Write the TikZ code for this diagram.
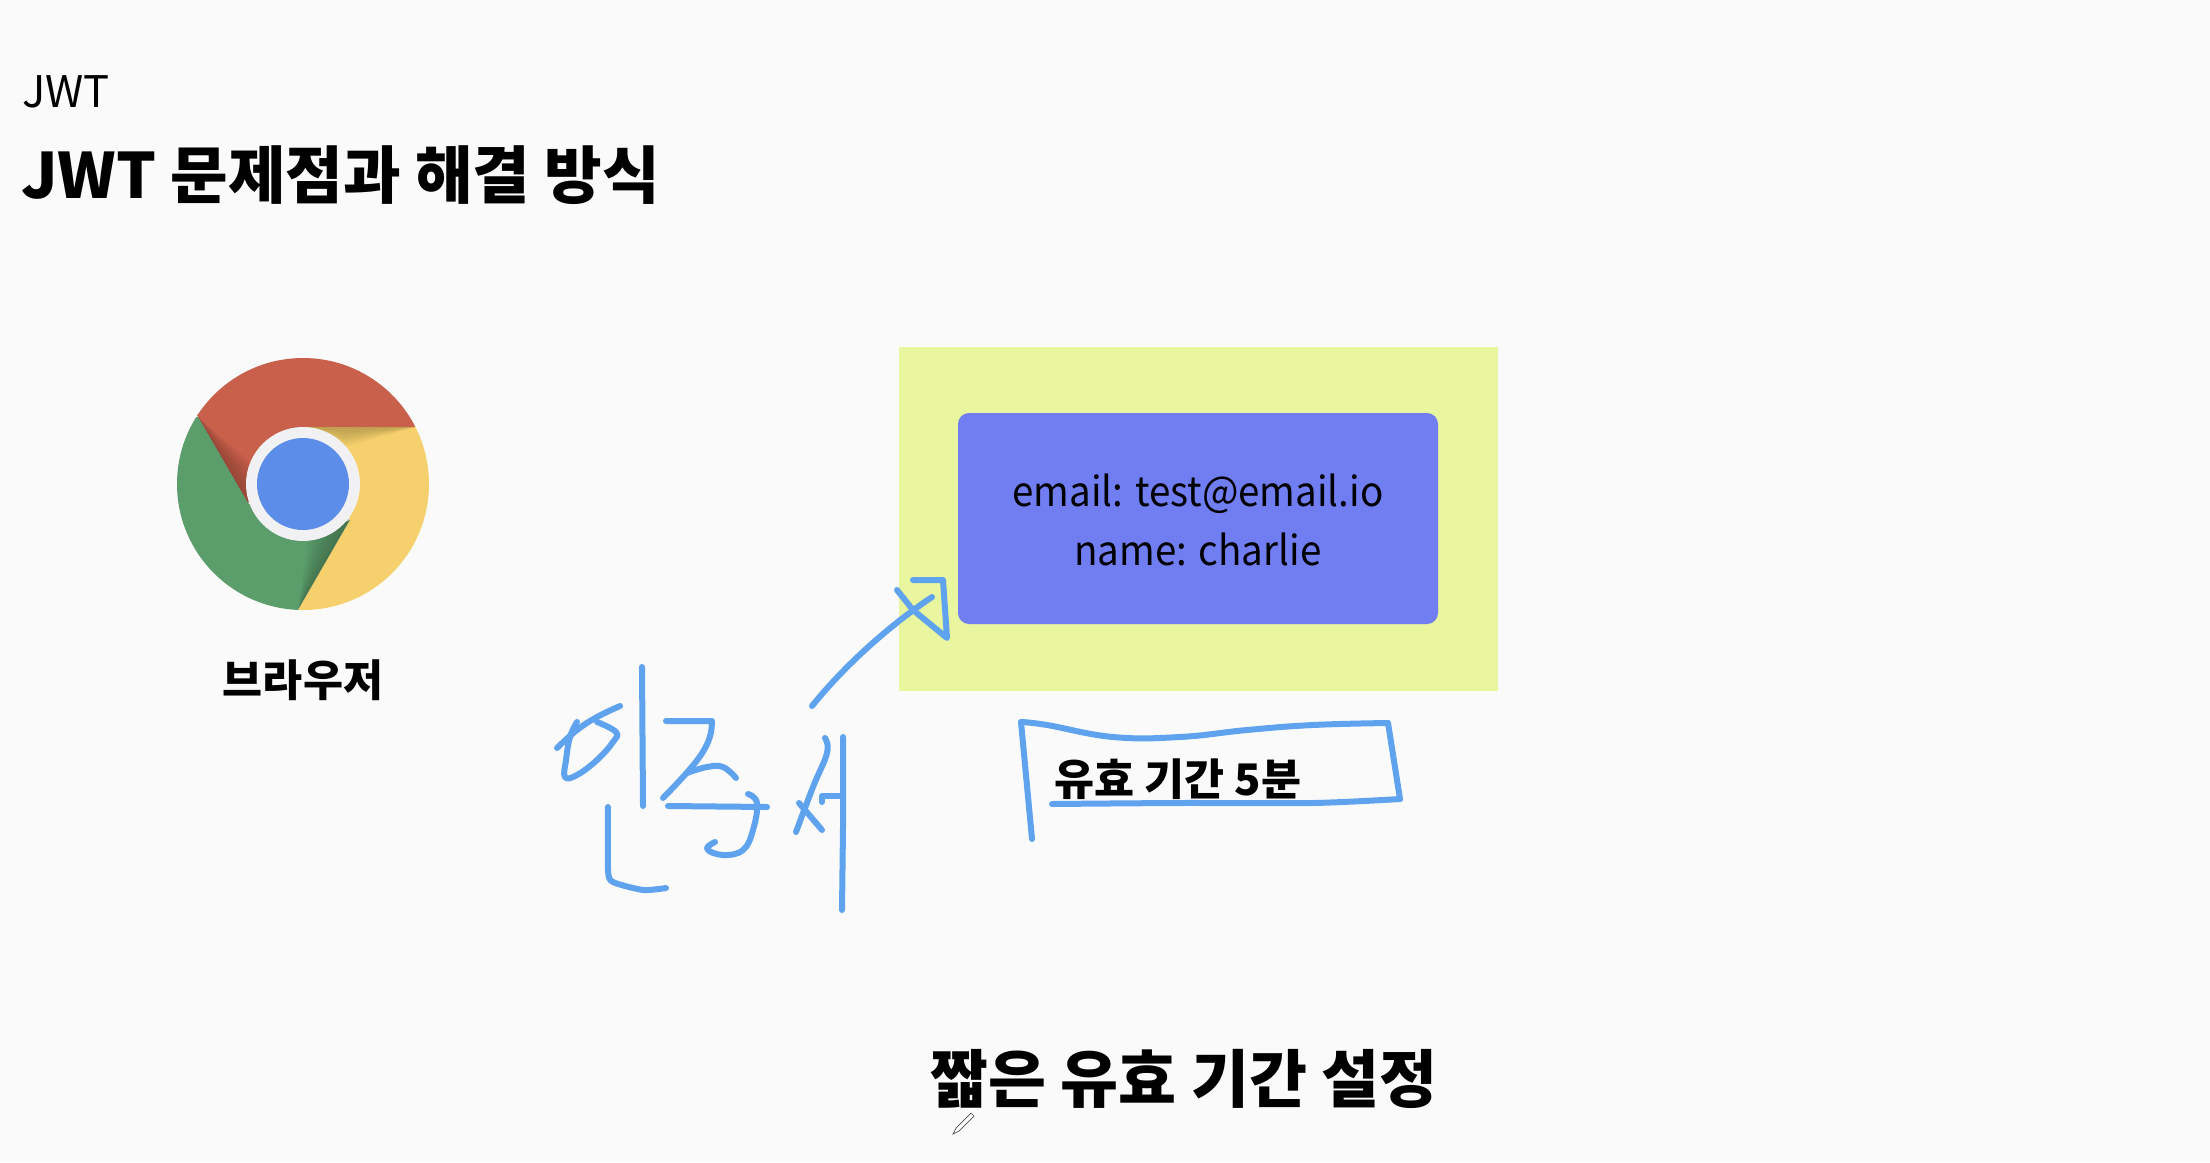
\documentclass[tikz,border=0pt]{standalone}
\usepackage{fontspec}
\setmainfont{Noto Sans CJK KR}
\newfontfamily\narrowf[FakeStretch=0.94]{Noto Sans CJK KR}
\usetikzlibrary{calc}
\definecolor{bgc}{HTML}{FAFAFB}
\definecolor{ink}{HTML}{5FA3EE}
\definecolor{yel}{HTML}{E9F59F}
\definecolor{card}{HTML}{707EF2}
\definecolor{cred}{HTML}{C8604B}
\definecolor{cgreen}{HTML}{5C9D6C}
\definecolor{cyellow}{HTML}{F5D06C}
\definecolor{cblue}{HTML}{5C8DE8}
\definecolor{cwhite}{HTML}{F1F1F3}
\tikzset{
  pen/.style={draw=ink,line width=6pt,line cap=round,line join=round},
  txt/.style={inner sep=0pt,outer sep=0pt,text=black,anchor=center},
  soft/.style={fill=black,opacity=.022},
}
\newcommand{\fs}[1]{\fontsize{#1pt}{#1pt}\selectfont}
\begin{document}
\begin{tikzpicture}[x=1pt,y=-1pt]
\useasboundingbox (0,0) rectangle (2210,1162);
\fill[bgc] (0,0) rectangle (2210,1162);
% titles
\node[txt,anchor=west] (sup) at (22,92) {\fs{43.5}JWT};
\node[txt,anchor=west] (title) at (21,175) {\fs{62.6}\bfseries JWT 문제점과 해결 방식};
% chrome logo
\begin{scope}
\clip (303,484) circle (126);
\fill[cred] (303,427) -- (415,427) -- (460,300) -- (150,300) -- (150,340) -- (198,417) -- (248,503) -- cycle;
\fill[cgreen] (198,417) -- (248,503) -- (303,540) -- (350,520) -- (298,610) -- (170,640) -- (150,420) -- cycle;
\fill[cyellow] (303,427) -- (415,427) -- (460,420) -- (460,640) -- (298,610) -- (350,520) -- cycle;
\foreach \t in {.1,.2,...,1.01}{
  \fill[soft] (198,417) -- (248,503) -- ($(248,503)+\t*(30,-18)$) -- cycle;
  \fill[soft] (298,610) -- (350,520) -- ($(350,520)+\t*(-36,-22)$) -- cycle;
  \fill[soft] (415,427) -- (303,427) -- ($(345,427)+\t*(0,20)$) -- cycle;
}
\end{scope}
\fill[cwhite] (303,484) circle (57);
\fill[cblue] (303,484) circle (46);
\node[txt] (browser) at (303,680) {\fs{43.5}\bfseries 브라우저};
% token card
\fill[yel] (899,347) rectangle (1498,691);
\fill[card,rounded corners=11pt] (958,413) rectangle (1438,624);
\node[txt,align=center] (l1) at (1198,494) {\narrowf\fs{41}email: test@email.io};
\node[txt,align=center] (l2) at (1198,549) {\narrowf\fs{41}name: charlie};
\node[txt] (valid) at (1178,779) {\fs{43.5}\bfseries 유효 기간 5분};
\node[txt] (short) at (1184,1079) {\fs{63}\bfseries 짧은 유효 기간 설정};
% handwriting
\draw[pen] plot[smooth,tension=.7] coordinates {(557,748)(577,730)(597,717)(620,706)};
\draw[pen] plot[smooth,tension=.7] coordinates {(577,722)(570,737)(566,760)(565,777)(577,775)(597,760)(613,742)(616,732)(597,722)};
\draw[pen] (642,667) -- (643,806);
\draw[pen] plot[smooth,tension=.4] coordinates {(608,807)(608,870)(613,882)(643,890)(666,888)};
\draw[pen] (666,721) -- (712,721) .. controls (712,745) and (700,760) .. (663,798);
\draw[pen] plot[smooth,tension=.7] coordinates {(687,773)(707,767)(723,767)(736,778)};
\draw[pen] (668,806) -- (767,807);
\draw[pen] plot[smooth,tension=.7] coordinates {(748,794)(757,803)(753,830)(743,850)(723,855)(707,849)(715,842)};
\draw[pen] plot[smooth,tension=.7] coordinates {(825,738)(827,753)(813,787)(796,832)};
\draw[pen] (799,803) -- (822,830);
\draw[pen] (822,802) -- (822,796) -- (842,796);
\draw[pen] (843,737) -- (843,827) -- (842,910);
% handwritten arrow
\draw[pen] (812,706) .. controls (845,665) and (890,625) .. (932,597);
\draw[pen] (913,580) -- (943,580) -- (947,638) -- (913,610) -- (897,590);
% handwritten flag
\draw[pen] (1032,839) -- (1021,722);
\draw[pen] plot[smooth,tension=.7] coordinates {(1021,722)(1047,725)(1113,737)(1180,737)(1247,730)(1313,725)(1388,723)};
\draw[pen] (1388,723) -- (1400,799);
\draw[pen] plot[smooth,tension=.5] coordinates {(1052,804)(1180,803)(1313,803)(1400,799)};
% pencil cursor
\draw[black!70,fill=white,line width=.7pt] (953,1134) -- (956,1128) -- (971,1113) -- (974,1116) -- (959,1131) -- cycle;
\end{tikzpicture}
\end{document}
